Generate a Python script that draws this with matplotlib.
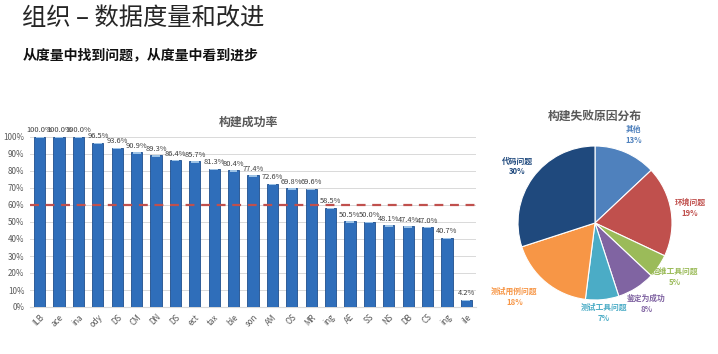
import matplotlib.pyplot as plt
import numpy as np

plt.rcParams['font.family'] = ['Noto Sans CJK SC', 'DejaVu Sans']

# build success rate per project (labels are cut off in the source)
projects = ['ILB', 'ace', 'ina', 'ody', 'DS', 'CM', 'DN', 'DS', 'ect', 'tax', 'ble', 'son',
            'AM', 'OS', 'MR', 'ing', 'AE', 'SS', 'NS', 'DB', 'CS', 'ing', 'ile']
success = [100.0, 100.0, 100.0, 96.5, 93.6, 90.9, 89.3, 86.4, 85.7, 81.3, 80.4, 77.4,
           72.6, 69.8, 69.6, 58.5, 50.5, 50.0, 48.1, 47.4, 47.0, 40.7, 4.2]
target = 60

# failure reasons
reasons = ['其他', '环境问题', '运维工具问题', '鉴定为成功', '测试工具问题', '测试用例问题', '代码问题']
shares = [13, 19, 5, 8, 7, 18, 30]
pie_colors = ['#4F81BD', '#C0504D', '#9BBB59', '#8064A2', '#4BACC6', '#F79646', '#1F497D']

fig = plt.figure(figsize=(7.18, 3.54), dpi=100)
fig.patch.set_facecolor('white')

fig.text(0.031, 0.95, '组织 – 数据度量和改进', fontsize=17.5, color='#262626',
         va='center', ha='left', fontweight='light')
fig.text(0.031, 0.845, '从度量中找到问题，从度量中看到进步', fontsize=10,
         fontweight='bold', color='#111111', va='center', ha='left')

# bar chart
ax = fig.add_axes([30 / 718, 1 - 307 / 354, 446 / 718, 170 / 354])
x = np.arange(len(success))
ax.bar(x, success, width=0.58, color='#2F6EBA', edgecolor='#1F4E8C', linewidth=0.6, zorder=3)
ax.bar(x, [min(v, 0.8) for v in success], bottom=[v - 0.8 for v in success], width=0.4,
       color='#9DC3E6', linewidth=0, zorder=4)
for xi, v in zip(x, success):
    ax.text(xi, v + 1.5, f'{v:.1f}%', ha='center', va='bottom', fontsize=5.4,
            color='#404040', clip_on=False, zorder=5)
ax.axhline(target, color='#C0504D', linestyle=(0, (4, 3)), linewidth=1.6, zorder=5)
ax.set_xlim(-0.5, len(success) - 0.5)
ax.set_ylim(0, 100)
ax.set_yticks(np.arange(0, 101, 10))
ax.set_yticklabels([f'{t}%' for t in range(0, 101, 10)])
ax.set_xticks(x)
ax.set_xticklabels(projects, rotation=45, ha='right', rotation_mode='anchor')
ax.tick_params(axis='both', length=0, labelsize=5.8, colors='#595959', pad=4)
ax.grid(axis='y', color='#D9D9D9', linewidth=0.7, zorder=0)
for s in ['top', 'right', 'left']:
    ax.spines[s].set_visible(False)
ax.spines['bottom'].set_color('#D9D9D9')
ax.set_title('构建成功率', fontsize=8.6, fontweight='bold', color='#595959', pad=8, x=0.49)

# pie chart
pax = fig.add_axes([518 / 718, 1 - 300 / 354, 154 / 718, 154 / 354])
wedges, texts = pax.pie(shares, colors=pie_colors, startangle=90, counterclock=False,
                        labels=[f'{r}\n{s}%' for r, s in zip(reasons, shares)],
                        labeldistance=1.25,
                        wedgeprops=dict(edgecolor='white', linewidth=0.8))
pax.set_xlim(-1, 1)
pax.set_ylim(-1, 1)
for t, c in zip(texts, pie_colors):
    t.set_color(c)
    t.set_fontsize(5.6)
    t.set_fontweight('bold')
    t.set_ha('center')
    t.set_multialignment('center')
    t.set_linespacing(1.3)
texts[5].set_x(texts[5].get_position()[0] - 0.25)
texts[4].set_y(texts[4].get_position()[1] + 0.08)
pax.set_aspect('equal')
pax.set_title('构建失败原因分布', fontsize=8.5, fontweight='bold', color='#595959', pad=19)

fig.savefig('out.png', dpi=100)
